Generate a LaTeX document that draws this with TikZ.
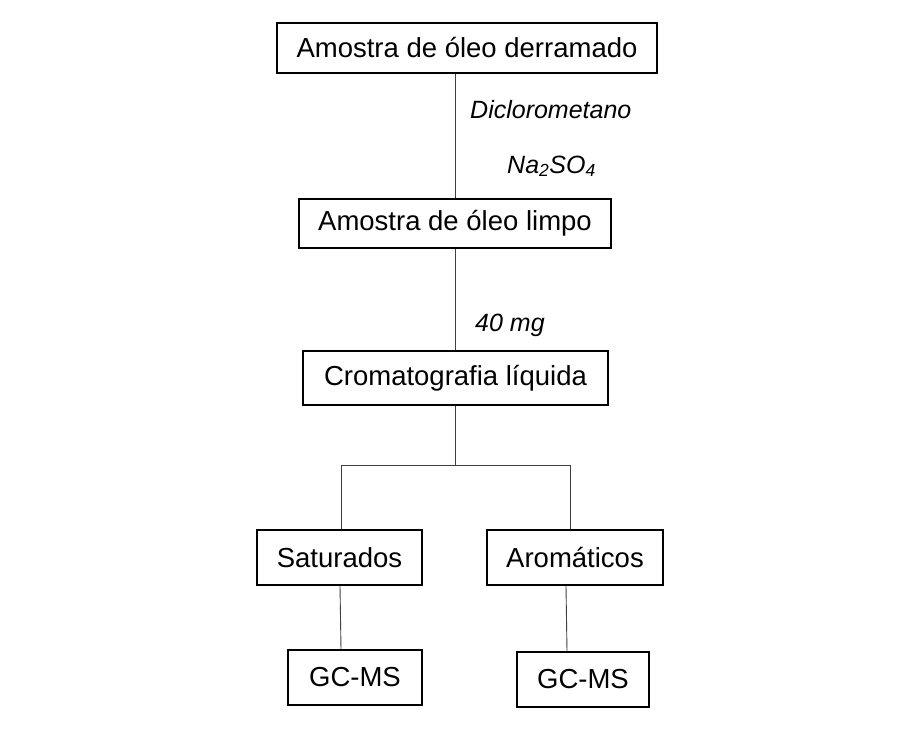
\documentclass[tikz,border=0pt]{standalone}
\usepackage{fontspec}
\setmainfont{Liberation Sans}
\begin{document}
\begin{tikzpicture}[x=1pt,y=-1pt,
  box/.style={draw=black,line width=1.8pt,inner sep=0pt,font=\fontsize{27.5}{33}\selectfont},
  lab/.style={anchor=base west,inner sep=0pt,font=\fontsize{25}{30}\selectfont\itshape},
  conn/.style={draw=black!75,line width=0.9pt}]
\useasboundingbox[fill=white] (0,0) rectangle (906,742);
\node[box,minimum width=380pt,minimum height=50pt] (b1) at (467,48) {Amostra de óleo derramado};
\node[box,minimum width=312pt,minimum height=49pt] (b2) at (455,223.5) {Amostra de óleo limpo};
\node[box,minimum width=305pt,minimum height=54pt] (b3) at (455.5,378) {Cromatografia líquida};
\node[box,minimum width=165pt,minimum height=55pt] (sat) at (339.5,557.5) {Saturados};
\node[box,minimum width=176pt,minimum height=55pt] (aro) at (575,557.5) {Aromáticos};
\node[box,minimum width=134pt,minimum height=55pt] (gc1) at (355,677.5) {GC-MS};
\node[box,minimum width=132pt,minimum height=55pt] (gc2) at (583,679.5) {GC-MS};
\node[lab] (l1) at (470,118) {Diclorometano};
\node[lab] (l2) at (507,173) {Na\textsubscript{2}SO\textsubscript{4}};
\node[lab] (l3) at (475,331) {40 mg};
\coordinate (j) at (455,465);
\coordinate (jl) at (341,465);
\coordinate (jr) at (570,465);
\draw[conn] (b2.north -| 455,0) -- (b1.south -| 455,0);
\draw[conn] (b2.south -| 455,0) -- (b3.north -| 455,0);
\draw[conn] (b3.south -| 455,0) -- (j);
\draw[conn] (jl) -- (jr);
\draw[conn] (jl) -- (sat.north -| jl);
\draw[conn] (jr) -- (aro.north -| jr);
\draw[conn] (sat.south -| 340,0) -- (gc1.north -| 341,0);
\draw[conn] (aro.south -| 566,0) -- (gc2.north -| 567,0);
\end{tikzpicture}
\end{document}
